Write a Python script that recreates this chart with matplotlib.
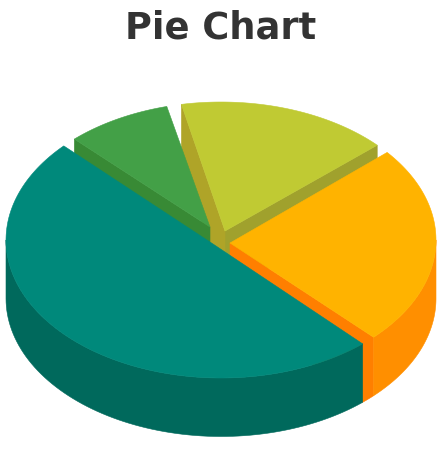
import numpy as np
import matplotlib
matplotlib.use("Agg")
import matplotlib.pyplot as plt
from matplotlib.patches import Polygon

labels = ["Orange", "Lime", "Green", "Teal"]
values = [24.5, 17.0, 9.0, 49.5]
top_colors = ["#FFB300", "#C0CA33", "#43A047", "#00897B"]
wall_colors = ["#FF8F00", "#A0A12D", "#388A35", "#00695C"]
start_cut_colors = ["#FF7F00", "#A0A12D", "#388A35", "#00695C"]
end_cut_colors = ["#FF7F00", "#AFA428", "#388A35", "#00695C"]
title = "Pie Chart"

START = -46.8
GAP = 2.0
CX, CY = 221, 240
RX, RY, DEPTH = 215, 138, 58.5
apex_x = [230, 225, 210, 213]
apex_y = [243, 231, 227, 244]

fig = plt.figure(figsize=(4.46, 4.49), dpi=100)
ax = fig.add_axes([0, 0, 1, 1])
ax.set_xlim(0, 446)
ax.set_ylim(449, 0)
ax.axis("off")

edges = START + np.cumsum([0] + values) * 3.6
slices = [(edges[i] + GAP, edges[i + 1] - GAP, i) for i in range(len(values))]
slices.sort(key=lambda s: -np.sin(np.radians((s[0] + s[1]) / 2)))


def point(deg):
    t = np.radians(deg)
    return CX + RX * np.cos(t), CY - RY * np.sin(t)


for a, b, i in slices:
    cx, cy = apex_x[i], apex_y[i]
    kw = dict(closed=True, linewidth=0.4, joinstyle="round")
    # flat cut face at the start of the slice; its foot follows the rim across the gap
    if np.sin(np.radians(a - 90)) < 0:
        x, y = point(a)
        gx, gy = point(np.linspace(a, a - 2 * GAP, 12))
        pts = np.r_[[(cx, cy), (x, y)], np.c_[gx, gy + DEPTH], [(cx, cy + DEPTH)]]
        ax.add_patch(Polygon(pts, fc=start_cut_colors[i], ec=start_cut_colors[i], **kw))
    # flat cut face at the end of the slice
    if np.sin(np.radians(b + 90)) < 0:
        x, y = point(b)
        ax.add_patch(Polygon([(cx, cy), (x, y), (x, y + DEPTH), (cx, cy + DEPTH)],
                             fc=end_cut_colors[i], ec=end_cut_colors[i], **kw))
    # outer wall, only its front part
    spans = []
    if b > 180:
        spans.append((max(a, 180), min(b, 360)))
    if a < 0:
        spans.append((a, min(b, 0)))
    for lo, hi in spans:
        ts = np.linspace(lo, hi, 80)
        px, py = point(ts)
        pts = np.r_[np.c_[px, py], np.c_[px, py + DEPTH][::-1]]
        ax.add_patch(Polygon(pts, fc=wall_colors[i], ec=wall_colors[i], **kw))
    # top face
    ts = np.linspace(a, b, 120)
    px, py = point(ts)
    pts = np.r_[[(cx, cy)], np.c_[px, py]]
    ax.add_patch(Polygon(pts, fc=top_colors[i], ec=top_colors[i], **kw))

ax.text(220.5, 38.5, title, ha="center", va="baseline", fontsize=26.5,
        fontweight="bold", family="DejaVu Sans", color="#333333")

fig.savefig("out.png", dpi=100)
